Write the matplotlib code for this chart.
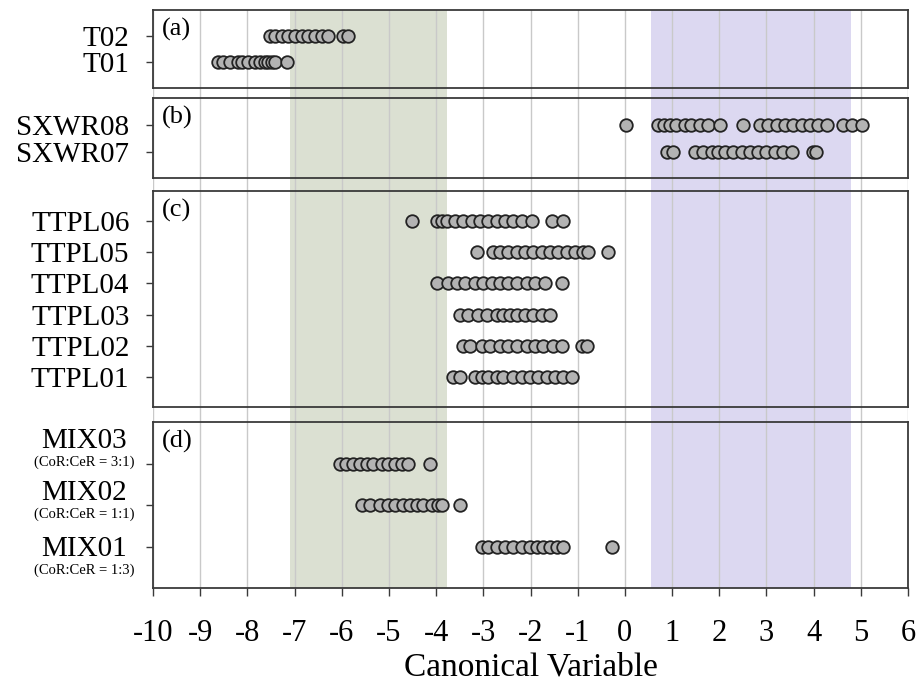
import numpy as np
import matplotlib.pyplot as plt

plt.rcParams['font.family'] = ['Liberation Serif', 'DejaVu Serif']

# canonical variable scores, one list per sample
t01 = [-8.62, -8.52, -8.37, -8.20, -8.11, -7.99, -7.84, -7.73, -7.63, -7.56, -7.48, -7.42, -7.16]
t02 = [-7.52, -7.41, -7.27, -7.14, -6.99, -6.84, -6.72, -6.57, -6.42, -6.29, -5.97, -5.87]

sxwr07 = [0.89, 1.02, 1.48, 1.65, 1.84, 1.97, 2.12, 2.29, 2.48, 2.65, 2.82, 3.00, 3.18,
          3.35, 3.54, 3.98, 4.06]
sxwr08 = [0.02, 0.70, 0.83, 0.96, 1.09, 1.27, 1.41, 1.59, 1.77, 2.01, 2.50, 2.86, 3.03,
          3.22, 3.39, 3.56, 3.75, 3.92, 4.09, 4.28, 4.62, 4.81, 5.02]

ttpl01 = [-3.64, -3.50, -3.18, -3.03, -2.90, -2.71, -2.58, -2.37, -2.18, -2.01, -1.84,
          -1.65, -1.48, -1.31, -1.12]
ttpl02 = [-3.43, -3.28, -3.03, -2.86, -2.65, -2.48, -2.29, -2.08, -1.91, -1.74, -1.53,
          -1.33, -0.91, -0.81]
ttpl03 = [-3.50, -3.33, -3.11, -2.92, -2.71, -2.58, -2.44, -2.29, -2.12, -1.95, -1.76, -1.59]
ttpl04 = [-3.98, -3.75, -3.56, -3.39, -3.18, -3.01, -2.82, -2.65, -2.48, -2.29, -2.08,
          -1.91, -1.69, -1.33]
ttpl05 = [-3.14, -2.80, -2.65, -2.48, -2.29, -2.12, -1.95, -1.76, -1.59, -1.42, -1.23,
          -1.06, -0.89, -0.78, -0.36]
ttpl06 = [-4.51, -3.98, -3.88, -3.77, -3.60, -3.43, -3.24, -3.07, -2.90, -2.71, -2.54,
          -2.37, -2.18, -1.97, -1.55, -1.31]

mix01 = [-3.03, -2.90, -2.71, -2.54, -2.37, -2.18, -2.01, -1.86, -1.74, -1.59, -1.44,
         -1.31, -0.28]
mix02 = [-5.57, -5.40, -5.19, -5.01, -4.87, -4.70, -4.56, -4.41, -4.28, -4.09, -3.96,
         -3.88, -3.50]
mix03 = [-6.04, -5.90, -5.76, -5.61, -5.47, -5.33, -5.15, -5.01, -4.87, -4.73, -4.59, -4.13]

panels = [
    ('(a)', ['T01', 'T02'], [t01, t02]),
    ('(b)', ['SXWR07', 'SXWR08'], [sxwr07, sxwr08]),
    ('(c)', ['TTPL01', 'TTPL02', 'TTPL03', 'TTPL04', 'TTPL05', 'TTPL06'],
     [ttpl01, ttpl02, ttpl03, ttpl04, ttpl05, ttpl06]),
    ('(d)', ['MIX01', 'MIX02', 'MIX03'], [mix01, mix02, mix03]),
]
mix_ratios = ['(CoR:CeR = 1:3)', '(CoR:CeR = 1:1)', '(CoR:CeR = 3:1)']
# how far (pixels) each MIX label sits above its row of points
mix_label_lift = [0, 15, 25]

# shaded ranges (canonical variable)
green_span = (-7.1, -3.77)
purple_span = (0.55, 4.79)
xticks = np.arange(-10, 7)

W, H = 917, 685
fig = plt.figure(figsize=(W / 100, H / 100), dpi=100)


def rect(top, bottom, left=153, right=908):
    return [left / W, 1 - bottom / H, (right - left) / W, (bottom - top) / H]


# background axes holding the shading and grid that runs through all panels
bg = fig.add_axes(rect(10, 588), zorder=0)
bg.set_xlim(-10, 6)
bg.axvspan(*green_span, color='#dbe0d2', lw=0)
bg.axvspan(*purple_span, color='#dcd8f1', lw=0)
for x in xticks:
    bg.axvline(x, color='#c9c9c9', lw=1.0, zorder=1)
bg.axis('off')

panel_px = [(10, 88), (98, 178), (191, 407), (422, 588)]
ylims = [(-0.95, 1.95), (-0.97, 2.0), (-0.96, 5.96), (-1.0, 3.0)]

for (letter, labels, rows), (top, bottom), ylim in zip(panels, panel_px, ylims):
    ax = fig.add_axes(rect(top, bottom), zorder=2)
    ax.patch.set_alpha(0)
    for i, vals in enumerate(rows):
        ax.scatter(vals, np.full(len(vals), i), s=82, facecolor='#b3b3b3',
                   edgecolor='#222222', linewidth=1.3, zorder=3)
    ax.set_xlim(-10, 6)
    ax.set_ylim(*ylim)
    ax.set_yticks(range(len(labels)))
    for sp in ax.spines.values():
        sp.set_color('#3a3a3a')
        sp.set_linewidth(1.3)
    ax.tick_params(axis='y', direction='out', length=5, width=1, color='#3a3a3a',
                   labelsize=21, pad=12)
    ax.annotate(letter, xy=(0, 1), xycoords='axes fraction', xytext=(9, -8),
                textcoords='offset pixels', ha='left', va='top', fontsize=19)
    if letter == '(d)':
        ax.set_yticklabels([''] * len(labels))
        ytr = ax.get_yaxis_transform()
        for i, (lab, ratio) in enumerate(zip(labels, mix_ratios)):
            lift = mix_label_lift[i]
            ax.annotate(lab, xy=(0, i), xycoords=ytr, xytext=(-69, lift),
                        textcoords='offset pixels', ha='center', va='center_baseline',
                        fontsize=21)
            ax.annotate(ratio, xy=(0, i), xycoords=ytr, xytext=(-69, lift - 24),
                        textcoords='offset pixels', ha='center', va='center',
                        fontsize=10.5)
        ax.set_xticks(xticks)
        ax.set_xticklabels([str(x) for x in xticks])
        ax.tick_params(axis='x', direction='out', length=6, width=1, color='#3a3a3a',
                       labelsize=22, pad=16)
        ax.set_xlabel('Canonical Variable', fontsize=24, labelpad=3)
    else:
        ax.set_yticklabels(labels)
        ax.set_xticks([])

fig.savefig('out.png', dpi=100)
